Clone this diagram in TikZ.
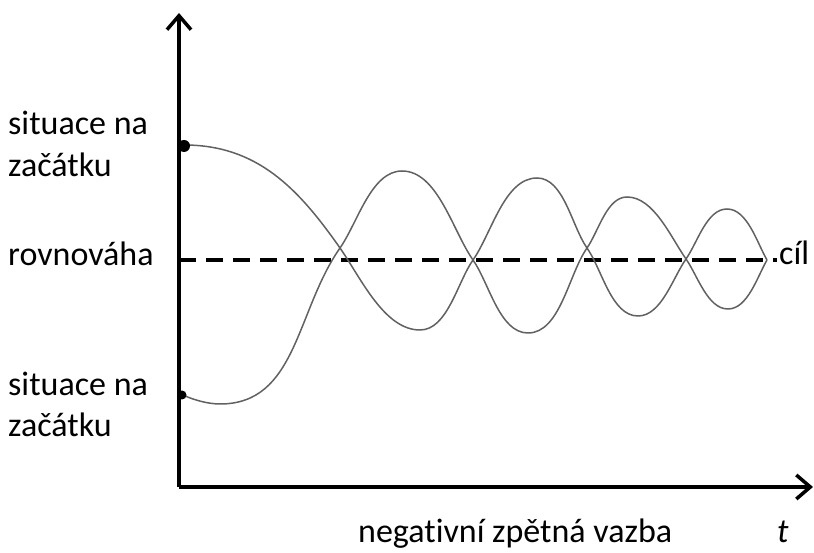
\documentclass[tikz,border=0pt]{standalone}
\usepackage{fontspec}
\setmainfont{Carlito}[Ligatures={NoCommon,NoRare,NoContextual}]
\usetikzlibrary{arrows.meta}
\begin{document}
\begin{tikzpicture}[x=1pt,y=1pt,
  axis/.style={line width=3.5pt,-{Straight Barb[length=14pt,width=24pt]}},
  curve/.style={line width=1.5pt,black!62},
  goal/.style={line width=4.5pt,dash pattern=on 17pt off 10pt},
  lbl/.style={anchor=base west,inner sep=0pt,font=\fontsize{34}{40}\selectfont},
  every to/.style={looseness=0.8}]
\useasboundingbox (0,0) rectangle (814,553);
% axes
\coordinate (O) at (179,66);
\coordinate (Ytop) at (179,540);
\coordinate (Xend) at (813,66);
\draw[axis] (O) -- (Ytop);
\draw[axis] (O) -- (Xend);
% goal line
\coordinate (G0) at (179,293);
\coordinate (G1) at (777,293);
\draw[goal] (G0) -- (G1);
% curve A (starts high)
\draw[curve] (184,408) to[out=0,in=125,looseness=1] (340,305)
  to[out=-55,in=180] (420,223) to[out=0,in=235] (473,293)
  to[out=55,in=180] (537,375) to[out=0,in=125] (587,305)
  to[out=-55,in=180] (638,237) to[out=0,in=235] (686,294)
  to[out=55,in=180] (727,344) to[out=0,in=120] (767,293);
% curve B (starts low)
\draw[curve] (183,158) to[out=-25,in=180] (220,149)
  to[out=0,in=235,looseness=1] (340,305) to[out=55,in=180] (402,382)
  to[out=0,in=125] (473,293) to[out=-55,in=180] (528,220)
  to[out=0,in=235] (587,305) to[out=55,in=180] (627,356)
  to[out=0,in=125] (686,294) to[out=-55,in=180] (728,244)
  to[out=0,in=240] (767,293);
% start dots
\fill (184,407) circle (6pt);
\fill (182,158) circle (4.5pt);
% labels
\node[lbl] (s1a) at (8,418) {situace na};
\node[lbl] (s1b) at (8,376) {začátku};
\node[lbl] (rv) at (8,287) {rovnováha};
\node[lbl] (s2a) at (8,157) {situace na};
\node[lbl] (s2b) at (8,116) {začátku};
\node[lbl] (cil) at (779,288) {cíl};
\node[lbl] (nzv) at (358,10) {negat\kern0pt ivní zpětná vazba};
\node[lbl] (t) at (777,10) {\itshape t};
\end{tikzpicture}
\end{document}
